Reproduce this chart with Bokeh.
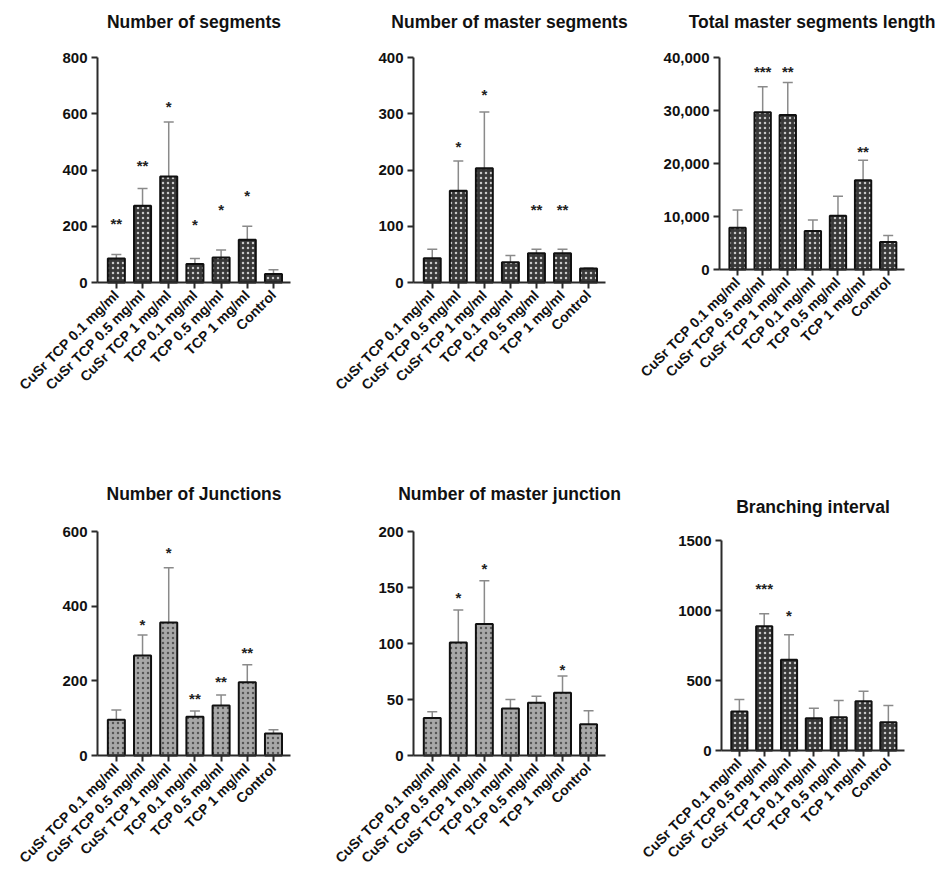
import math
from bokeh.plotting import figure
from bokeh.layouts import column, row
from bokeh.models import (ColumnDataSource, Range1d, FixedTicker, Whisker, TeeHead,
                          NumeralTickFormatter, Label)
from bokeh.embed import file_html
from bokeh.core.properties import value
from bokeh.resources import INLINE

categories = ["CuSr TCP 0.1 mg/ml", "CuSr TCP 0.5 mg/ml", "CuSr TCP 1 mg/ml",
              "TCP 0.1 mg/ml", "TCP 0.5 mg/ml", "TCP 1 mg/ml", "Control"]

# Number of segments
seg_mean = [85, 273, 377, 66, 89, 152, 30]
seg_err = [100, 334, 571, 85, 116, 200, 45]
seg_sig = ["**", "**", "*", "*", "*", "*", ""]
seg_sig_y = [210, 415, 625, 207, 258, 310, 0]

# Number of master segments
mseg_mean = [43, 163, 203, 36, 52, 52, 25]
mseg_err = [59, 216, 303, 48, 59, 59, 26]
mseg_sig = ["", "*", "*", "", "**", "**", ""]
mseg_sig_y = [0, 242, 334, 0, 129, 129, 0]

# Total master segments length
tlen_mean = [7900, 29650, 29150, 7250, 10150, 16850, 5170]
tlen_err = [11230, 34500, 35300, 9340, 13800, 20600, 6430]
tlen_sig = ["", "***", "**", "", "", "**", ""]
tlen_sig_y = [0, 37300, 37300, 0, 0, 22300, 0]

# Number of Junctions
junc_mean = [96, 268, 356, 104, 134, 196, 59]
junc_err = [122, 323, 503, 119, 162, 243, 69]
junc_sig = ["", "*", "*", "**", "**", "**", ""]
junc_sig_y = [0, 352, 545, 154, 199, 277, 0]

# Number of master junction
mjunc_mean = [33.5, 101, 117.5, 42, 47, 56, 28]
mjunc_err = [39, 130, 156, 50, 53, 71, 40]
mjunc_sig = ["", "*", "*", "", "", "*", ""]
mjunc_sig_y = [0, 141, 167, 0, 0, 77, 0]

# Branching interval
br_mean = [279, 888, 648, 231, 238, 352, 202]
br_err = [364, 976, 826, 302, 357, 424, 321]
br_sig = ["", "***", "*", "", "", "", ""]
br_sig_y = [0, 1160, 964, 0, 0, 0, 0]

FONT = "Liberation Sans"
AXIS_COLOR = "#2b2b2b"
X_LO, X_HI = -0.72, 6.65
PAD_TOP = 5
PAD_SIDE = 2
PAD_BOT = 2


def panel(title, mean, err, sig, sig_y, yticks, width, height, bl, br,
          data_h, bb, dark=True, fmt=None, title_gap=36):
    """The frame covers nearly the whole figure (so titles and axis labels, drawn
    inside it, are never clipped); the data area 0..ymax, X_LO..X_HI sits inside."""
    ymax = yticks[-1]
    frame_h = height - PAD_TOP - bb
    ytop = ymax * frame_h / data_h
    ybot = -ymax * (bb - PAD_BOT) / data_h
    ppu = (width - bl - br) / (X_HI - X_LO)
    x0 = X_LO - (bl - PAD_SIDE) / ppu
    x1 = X_HI + (br - PAD_SIDE) / ppu
    xs = list(range(len(categories)))
    p = figure(width=width, height=height, output_backend="svg", toolbar_location=None,
               x_range=Range1d(x0, x1), y_range=Range1d(ybot, ytop),
               min_border_left=PAD_SIDE, min_border_right=PAD_SIDE,
               min_border_top=PAD_TOP, min_border_bottom=PAD_BOT)
    p.outline_line_color = None
    p.grid.visible = False

    p.add_layout(Label(x=(X_LO + X_HI) / 2, y=ymax, y_offset=title_gap, text=title,
                       text_align="center", text_baseline="middle",
                       text_font=FONT, text_font_size="17.5px", text_font_style="bold",
                       text_color="#111111"))

    src = ColumnDataSource(dict(x=xs, top=mean, err=err))
    if dark:
        p.vbar(x="x", top="top", bottom=0, width=0.65, source=src, fill_color="#383838",
               line_color="#111111", line_width=2, hatch_pattern="dot",
               hatch_color="#c8c8c8", hatch_scale=5, hatch_weight=3.5)
    else:
        p.vbar(x="x", top="top", bottom=0, width=0.65, source=src, fill_color="#a8a8a8",
               line_color="#111111", line_width=2, hatch_pattern="dot",
               hatch_color="#555555", hatch_scale=5, hatch_weight=2)
    w = Whisker(base="x", upper="err", lower="top", source=src, dimension="height",
                line_color="#8a8a8a", line_width=1.5,
                upper_head=TeeHead(size=10, line_color="#8a8a8a", line_width=1.5),
                lower_head=None)
    p.add_layout(w)

    sx = [x for x, s in zip(xs, sig) if s]
    sy = [y for y, s in zip(sig_y, sig) if s]
    st = [s for s in sig if s]
    p.text(x=sx, y=sy, text=st, text_align="center", text_baseline="middle",
           text_font=value(FONT), text_font_size="15px", text_font_style="bold",
           text_color="#222222")

    p.xaxis.ticker = FixedTicker(ticks=xs)
    p.xaxis.major_label_overrides = {i: c for i, c in enumerate(categories)}
    p.xaxis.major_label_orientation = math.pi / 4
    p.xaxis.bounds = (X_LO, X_HI)
    p.xaxis.fixed_location = 0
    p.yaxis.ticker = FixedTicker(ticks=yticks)
    p.yaxis.bounds = (0, ymax)
    p.yaxis.fixed_location = X_LO
    if fmt:
        p.yaxis.formatter = NumeralTickFormatter(format=fmt)
    for ax in (p.xaxis, p.yaxis):
        ax.axis_line_color = AXIS_COLOR
        ax.axis_line_width = 2
        ax.major_tick_line_color = AXIS_COLOR
        ax.major_tick_line_width = 2
        ax.major_tick_out = 6
        ax.major_tick_in = 0
        ax.minor_tick_line_color = None
        ax.major_label_text_font = FONT
        ax.major_label_text_font_style = "bold"
        ax.major_label_text_color = "#111111"
        ax.major_label_standoff = 4
    p.xaxis.major_label_text_font_size = "14px"
    p.yaxis.major_label_text_font_size = "15px"
    return p


p1 = panel("Number of segments", seg_mean, seg_err, seg_sig, seg_sig_y,
           [0, 200, 400, 600, 800], 308, 450, 97, 18, 225, 168, title_gap=36)
p4 = panel("Number of Junctions", junc_mean, junc_err, junc_sig, junc_sig_y,
           [0, 200, 400, 600], 308, 430, 97, 18, 224, 125, dark=False, title_gap=38)
p2 = panel("Number of master segments", mseg_mean, mseg_err, mseg_sig, mseg_sig_y,
           [0, 100, 200, 300, 400], 324, 450, 105, 27, 225, 168, title_gap=36)
p5 = panel("Number of master junction", mjunc_mean, mjunc_err, mjunc_sig, mjunc_sig_y,
           [0, 50, 100, 150, 200], 324, 430, 105, 27, 224, 125, dark=False, title_gap=38)
p3 = panel("Total master segments length", tlen_mean, tlen_err, tlen_sig, tlen_sig_y,
           [0, 10000, 20000, 30000, 40000], 312, 450, 87, 40, 212, 181,
           fmt="0,0", title_gap=36)
p6 = panel("Branching interval", br_mean, br_err, br_sig, br_sig_y,
           [0, 500, 1000, 1500], 312, 430, 89, 40, 210, 130, title_gap=34)

layout = row(column(p1, p4), column(p2, p5), column(p3, p6))
open("out.html", "w").write(file_html(layout, INLINE))
